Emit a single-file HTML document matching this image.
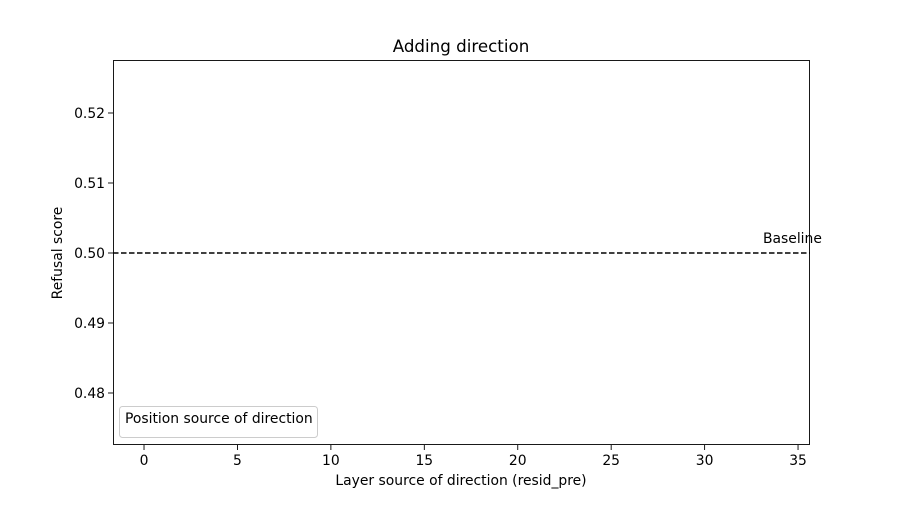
<!DOCTYPE html>
<html><head><meta charset="utf-8"><style>
body{margin:0;background:#fff;}
svg text{font-family:"DejaVu Sans","Liberation Sans",sans-serif;fill:#000;}
</style></head><body>
<svg width="900" height="500" id="c">
<rect width="900" height="500" fill="#fff"/>
<text x="461" y="52" font-size="16.7" text-anchor="middle">Adding direction</text>
<g id="ticks"></g>
<line id="baseline" stroke="#000" stroke-width="1.5" stroke-dasharray="5.5,2.5"/>
<text id="baseTxt" font-size="13.9">Baseline</text>
<rect x="113.5" y="60.5" width="696" height="384" fill="none" stroke="#000" stroke-width="0.9"/>
<rect x="119.5" y="406.5" width="198" height="31" rx="3" fill="#fff" stroke="#ccc"/>
<text x="125" y="423" font-size="13.9">Position source of direction</text>
<text x="461" y="485" font-size="13.9" text-anchor="middle">Layer source of direction (resid_pre)</text>
<text transform="translate(62,253) rotate(-90)" font-size="13.9" text-anchor="middle">Refusal score</text>
</svg>
<script>
const xTicks=[0,5,10,15,20,25,30,35];
const yTicks=[0.48,0.49,0.50,0.51,0.52];
const baselineValue=[0.5];
const xDomain=[-1.66,35.64], yDomain=[0.47257,0.52757];
const L=113,R=810,T=60,B=445;
const sx=v=>L+(v-xDomain[0])/(xDomain[1]-xDomain[0])*(R-L);
const sy=v=>B-(v-yDomain[0])/(yDomain[1]-yDomain[0])*(B-T);
const NS="http://www.w3.org/2000/svg";
const g=document.getElementById('ticks');
xTicks.forEach(t=>{
  const l=document.createElementNS(NS,'line');
  l.setAttribute('x1',sx(t));l.setAttribute('x2',sx(t));l.setAttribute('y1',B);l.setAttribute('y2',B+5);l.setAttribute('stroke','#000');l.setAttribute('stroke-width','0.9');
  
  
  g.appendChild(l);
  const tx=document.createElementNS(NS,'text');
  tx.setAttribute('x',sx(t));tx.setAttribute('y',B+20);tx.setAttribute('font-size','13.9');tx.setAttribute('text-anchor','middle');
  tx.textContent=t;
  
  
  g.appendChild(tx);
});
yTicks.forEach(t=>{
  const l=document.createElementNS(NS,'line');
  l.setAttribute('x1',L-5);l.setAttribute('x2',L);l.setAttribute('y1',sy(t));l.setAttribute('y2',sy(t));l.setAttribute('stroke','#000');l.setAttribute('stroke-width','0.9');
  
  
  g.appendChild(l);
  const tx=document.createElementNS(NS,'text');
  tx.setAttribute('x',L-8);tx.setAttribute('y',sy(t)+5);tx.setAttribute('font-size','13.9');tx.setAttribute('text-anchor','end');
  tx.textContent=t.toFixed(2);
  
  
  g.appendChild(tx);
});
const bl=document.getElementById('baseline');
bl.setAttribute('x1',L);bl.setAttribute('x2',R);bl.setAttribute('y1',sy(baselineValue[0]));bl.setAttribute('y2',sy(baselineValue[0]));
const bt=document.getElementById('baseTxt');
bt.setAttribute('x',763);bt.setAttribute('y',sy(baselineValue[0])-10);
</script>
</body></html>
